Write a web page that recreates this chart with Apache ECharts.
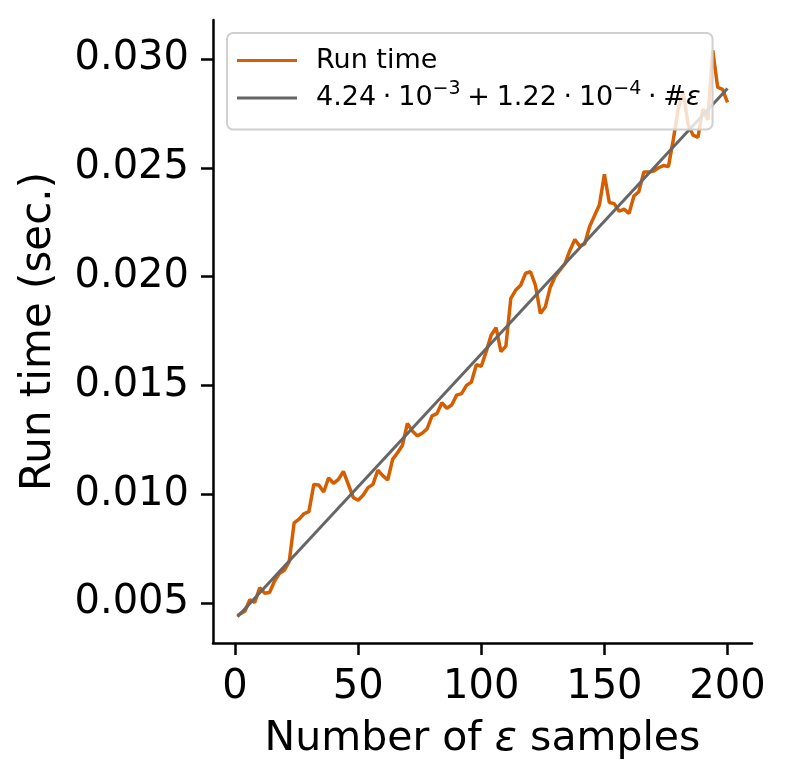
<!DOCTYPE html>
<html>
<head>
<meta charset="utf-8">
<script src="https://cdn.jsdelivr.net/npm/echarts@6.0.0/dist/echarts.min.js"></script>
<style>
  html, body { margin: 0; padding: 0; background: #fff; }
  #chart { width: 786px; height: 782px; }
</style>
</head>
<body>
<div id="chart"></div>
<script>
// Number of epsilon samples (x) and measured run time in seconds (y)
const sampleCounts = [1, 2, 4, 6, 8, 10, 12, 14, 16, 18, 20, 22, 24, 26, 28, 30, 32, 34, 36, 38, 40,
    42, 44, 46, 48, 50, 52, 54, 56, 58, 60, 62, 64, 66, 68, 70, 72, 74, 76, 78, 80,
    82, 84, 86, 88, 90, 92, 94, 96, 98, 100, 102, 104, 106, 108, 110, 112, 114, 116, 118, 120,
    122, 124, 126, 128, 130, 132, 134, 136, 138, 140, 142, 144, 146, 148, 150, 152, 154, 156, 158, 160,
    162, 164, 166, 168, 170, 172, 174, 176, 178, 180, 182, 184, 186, 188, 190, 192, 194, 196, 198, 200];
const runTimes = [0.00442, 0.00450, 0.00462, 0.00515, 0.00502, 0.00570, 0.00545, 0.00548, 0.00600, 0.00635, 0.00650,
    0.00690, 0.00868, 0.00885, 0.00910, 0.00920, 0.01045, 0.01042, 0.01010, 0.01075, 0.01050,
    0.01068, 0.01105, 0.01045, 0.00985, 0.00972, 0.00995, 0.01030, 0.01045, 0.01110, 0.01085,
    0.01065, 0.01160, 0.01190, 0.01225, 0.01325, 0.01290, 0.01268, 0.01280, 0.01300, 0.01360,
    0.01370, 0.01420, 0.01395, 0.01410, 0.01455, 0.01462, 0.01500, 0.01515, 0.01595, 0.01588,
    0.01655, 0.01730, 0.01765, 0.01655, 0.01680, 0.01900, 0.01938, 0.01960, 0.02015, 0.02022,
    0.01960, 0.01830, 0.01860, 0.01950, 0.02000, 0.02030, 0.02060, 0.02120, 0.02170, 0.02140,
    0.02150, 0.02230, 0.02280, 0.02330, 0.02470, 0.02340, 0.02335, 0.02300, 0.02310, 0.02290,
    0.02370, 0.02390, 0.02480, 0.02480, 0.02485, 0.02500, 0.02510, 0.02505, 0.02630, 0.02770,
    0.02850, 0.02700, 0.02650, 0.02640, 0.02770, 0.02720, 0.03040, 0.02870, 0.02860, 0.02800];

// linear fit shown in the legend
const fitIntercept = 4.24e-3;
const fitSlope = 1.22e-4;
const fitRange = [1, 200];

const xTicks = [0, 50, 100, 150, 200];
const yTicks = [0.005, 0.010, 0.015, 0.020, 0.025, 0.030];

const runSeries = sampleCounts.map((x, i) => [x, runTimes[i]]);
const fitSeries = fitRange.map(x => [x, fitIntercept + fitSlope * x]);

const FONT = 'DejaVu Sans';
const ORANGE = '#d55e00';
const GREY = '#666666';
const SP = '\u2005'; // narrower space, like mathtext operator spacing

const chart = echarts.init(document.getElementById('chart'), null, {
    devicePixelRatio: 1,
    renderer: 'canvas'
});

chart.setOption({
    animation: false,
    backgroundColor: '#ffffff',
    grid: {
        left: 213,
        right: 34,
        top: 20,
        bottom: 139,
        containLabel: false,
        outerBoundsMode: 'none'
    },
    legend: {
        orient: 'vertical',
        left: 227,
        top: 33,
        padding: [14, 12, 18, 10],
        itemGap: 6,
        itemWidth: 60,
        itemHeight: 3,
        borderColor: '#d0d0d0',
        borderWidth: 2,
        borderRadius: 6,
        backgroundColor: 'rgba(255,255,255,0.8)',
        data: [
            { name: 'Run time', icon: 'rect', itemStyle: { color: ORANGE } },
            { name: 'fit', icon: 'rect', itemStyle: { color: GREY } }
        ],
        formatter: function (name) {
            if (name === 'fit') {
                return '{n|4.24' + SP + '·' + SP + '10}{s|−3}{n|' + SP + '+' + SP + '1.22' + SP + '·' + SP +
                    '10}{s|−4}{n|' + SP + '·' + SP + '#}{i|ε}';
            }
            return '{n|' + name + '}';
        },
        textStyle: {
            fontFamily: FONT,
            fontSize: 27,
            color: '#000',
            padding: [0, 0, 0, 14],
            rich: {
                n: { fontFamily: FONT, fontSize: 27, color: '#000', lineHeight: 36 },
                i: { fontFamily: FONT, fontSize: 27, fontStyle: 'italic', color: '#000', lineHeight: 36 },
                s: { fontFamily: FONT, fontSize: 19, color: '#000', lineHeight: 36, verticalAlign: 'top' }
            }
        }
    },
    xAxis: {
        type: 'value',
        min: -8.95,
        max: 209.95,
        name: 'Number of {i|ε} samples',
        nameLocation: 'middle',
        nameGap: 76,
        nameTextStyle: {
            fontFamily: FONT,
            fontSize: 41,
            color: '#000',
            rich: {
                i: { fontFamily: FONT, fontSize: 41, fontStyle: 'italic', color: '#000' }
            }
        },
        axisLine: { show: true, onZero: false, lineStyle: { color: '#000', width: 2.5 } },
        axisTick: { show: true, customValues: xTicks, length: 12, lineStyle: { color: '#000', width: 2.5 } },
        axisLabel: {
            customValues: xTicks,
            margin: 25,
            fontFamily: FONT,
            fontSize: 40,
            color: '#000'
        },
        splitLine: { show: false }
    },
    yAxis: {
        type: 'value',
        min: 0.00316,
        max: 0.03179,
        name: 'Run time (sec.)',
        nameLocation: 'middle',
        nameGap: 153,
        nameTextStyle: {
            fontFamily: FONT,
            fontSize: 42,
            color: '#000'
        },
        axisLine: { show: true, onZero: false, lineStyle: { color: '#000', width: 2.5 } },
        axisTick: { show: true, customValues: yTicks, length: 12, lineStyle: { color: '#000', width: 2.5 } },
        axisLabel: {
            customValues: yTicks,
            margin: 24,
            fontFamily: FONT,
            fontSize: 40,
            color: '#000',
            formatter: v => v.toFixed(3)
        },
        splitLine: { show: false }
    },
    series: [
        {
            name: 'Run time',
            type: 'line',
            data: runSeries,
            symbol: 'none',
            lineStyle: { color: ORANGE, width: 3.5 },
            itemStyle: { color: ORANGE },
            z: 2
        },
        {
            name: 'fit',
            type: 'line',
            data: fitSeries,
            symbol: 'none',
            lineStyle: { color: GREY, width: 3 },
            itemStyle: { color: GREY },
            z: 3
        }
    ]
});
</script>
</body>
</html>
